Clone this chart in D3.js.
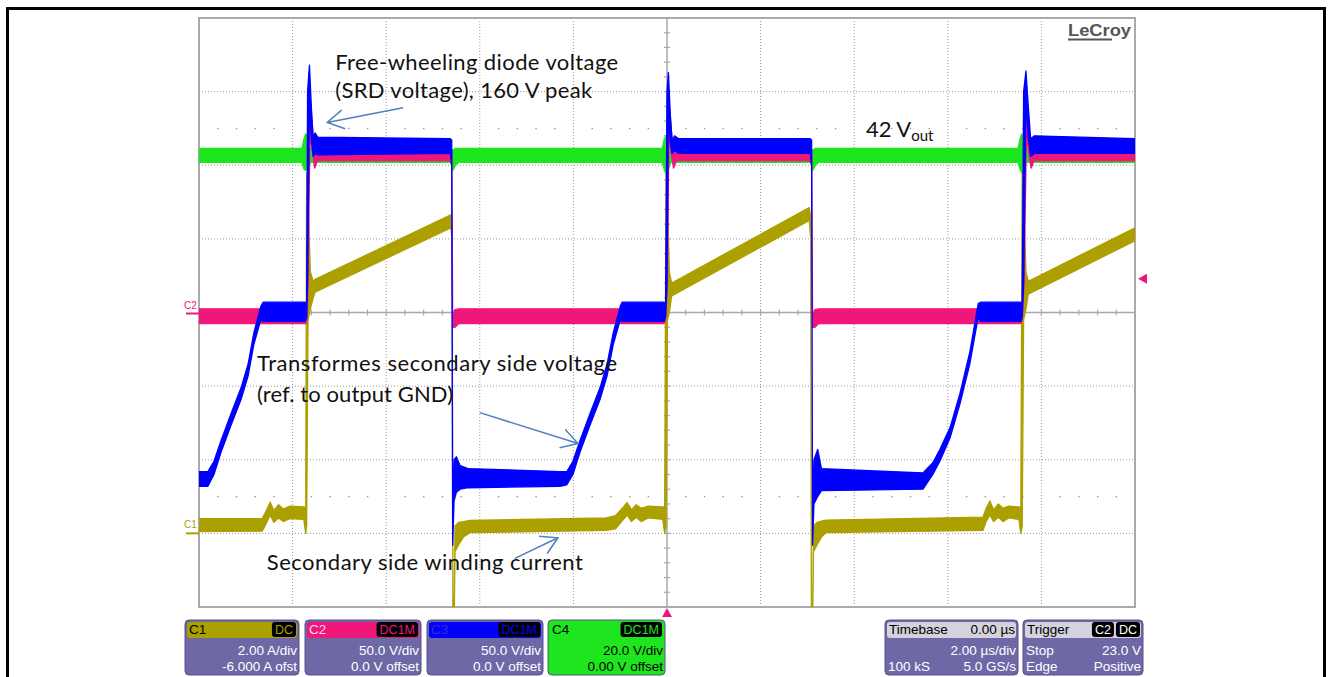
<!DOCTYPE html>
<html><head><meta charset="utf-8">
<script src="https://cdn.jsdelivr.net/npm/d3@7"></script>
<style>body{margin:0;background:#fff}svg{display:block}</style>
</head><body><svg id="c" width="1332" height="677"></svg>
<script>
// ---------------- DATA ----------------
const timeRange = [-10, 10];      // µs, 2.00 µs/div, timebase 0.00 µs
const c1Range = [-2, 14];         // A, 2.00 A/div, -6.000 A offset
const c2Range = [-200, 200];      // V, 50.0 V/div
const c3Range = [-200, 200];      // V, 50.0 V/div
const c4Range = [-80, 80];        // V, 20.0 V/div
const triggerLevel = 23;          // V on C2

// each point: [time µs, band low, band high]
const c3Blue = [
 [-10.00,-118,-108],[-9.81,-118,-108],[-9.68,-110,-101],[-9.53,-95,-87],[-9.32,-77,-69],
 [-9.10,-59,-51],[-8.95,-43,-35],[-8.83,-22,-14],[-8.68,-5,4],[-8.63,-6,7],[-7.73,-6,7],
 [-7.70,-3,5],[-7.68,20,150],[-7.64,145,168],[-7.60,118,140],[-7.56,106,118],[-7.52,108,122],
 [-7.46,107,119],[-4.63,108,118],[-4.60,100,117],[-4.58,-158,-140],[-4.55,-128,-100],
 [-4.50,-122,-98],[-4.42,-120,-104],[-4.25,-119,-106],[-2.29,-118,-108],[-2.14,-117,-108],
 [-2.01,-110,-101],[-1.86,-95,-87],[-1.65,-77,-69],[-1.43,-59,-51],[-1.28,-43,-35],
 [-1.15,-22,-14],[-1.00,-5,4],[-0.96,-6,7],[-0.06,-6,7],[-0.03,-3,5],[0.00,20,150],
 [0.03,140,163],[0.07,115,135],[0.11,108,116],[0.16,110,120],[0.25,108,118],[3.06,108,118],
 [3.09,100,117],[3.11,-158,-140],[3.14,-130,-100],[3.22,-125,-93],[3.30,-121,-106],
 [5.47,-120,-109],[5.68,-110,-102],[5.83,-101,-93],[6.05,-85,-78],[6.26,-62,-55],
 [6.47,-35,-27],[6.65,-3,6],[6.70,-6,7],[7.56,-6,7],[7.59,-3,5],[7.62,20,150],
 [7.67,145,164],[7.72,118,140],[7.77,106,118],[7.85,108,120],[10.00,108,118]
];
const c2Pink = [
 [-10,-7.5,2.5],[-7.72,-7.5,2.5],[-7.69,-5,2],[-7.67,20,100],[-7.63,120,147],[-7.58,110,128],
 [-7.53,98,108],[-7.47,103,113],[-4.63,103,112],[-4.60,100,110],[-4.58,-10,-2],[-4.53,-10,2],
 [-4.45,-7.5,2.5],[-0.06,-7.5,2.5],[-0.03,-5,2],[0.01,20,100],[0.04,120,145],[0.09,108,125],
 [0.14,98,108],[0.20,103,113],[3.06,103,112],[3.09,100,110],[3.11,-10,-2],[3.16,-10,2],
 [3.24,-7.5,2.5],[7.56,-7.5,2.5],[7.59,-5,2],[7.63,20,100],[7.68,120,147],[7.73,108,125],
 [7.78,98,108],[7.84,103,113],[10,103,112]
];
const c4Green = [
 [-10,40.8,44.6],[-7.80,40.8,44.6],[-7.76,39,47],[-7.72,38.6,48.6],[-7.67,39,47],[-7.62,40.8,44.6],
 [-4.62,40.8,44.6],[-4.58,38.5,44],[-4.52,40,44.6],[-4.45,40.8,44.6],[-0.10,40.8,44.6],
 [-0.06,39,47],[-0.02,37.5,48],[0.03,39,46],[0.08,40.8,44.6],[3.07,40.8,44.6],[3.11,38.5,44],
 [3.17,40,44.6],[3.24,40.8,44.6],[7.50,40.8,44.6],[7.54,39,47],[7.58,38,48.5],[7.63,39,47],
 [7.68,40.8,44.6],[10,40.8,44.6]
];
const c1Yellow = [
 [-10,0.05,0.4],[-8.65,0.06,0.4],[-8.55,0.3,0.65],[-8.48,0.5,0.85],[-8.40,0.3,0.62],
 [-8.30,0.42,0.78],[-8.20,0.32,0.66],[-8.06,0.4,0.74],[-7.76,0.38,0.72],[-7.72,0,0.7],
 [-7.70,0.2,9.8],[-7.67,5.8,9.0],[-7.62,6.1,7.1],[-7.56,6.4,6.85],[-7.52,6.55,6.9],
 [-4.62,8.3,8.65],[-4.59,8.0,8.5],[-4.575,-2.2,-1.8],[-4.545,-2.2,-1.8],[-4.53,-0.5,0.2],
 [-4.45,-0.3,0.3],[-4.35,-0.1,0.32],[-4.21,0.02,0.35],[-1.30,0.08,0.42],[-1.10,0.12,0.48],
 [-0.93,0.38,0.72],[-0.85,0.5,0.84],[-0.76,0.32,0.64],[-0.66,0.44,0.78],[-0.55,0.32,0.68],
 [-0.40,0.42,0.74],[-0.09,0.38,0.72],[-0.05,0,0.7],[-0.02,0.2,9.8],[0.01,5.8,9.0],
 [0.05,6.0,7.1],[0.10,6.45,6.8],[3.04,8.5,8.85],[3.07,8.0,8.6],[3.085,-2.2,-1.8],
 [3.115,-2.2,-1.8],[3.13,-0.5,0.2],[3.21,-0.3,0.3],[3.30,-0.1,0.33],[3.40,0.02,0.36],
 [6.75,0.08,0.44],[6.82,0.32,0.68],[6.90,0.5,0.88],[6.98,0.32,0.64],[7.08,0.44,0.8],
 [7.18,0.32,0.68],[7.30,0.42,0.74],[7.52,0.38,0.72],[7.56,0,0.7],[7.59,0.2,9.8],
 [7.62,5.8,9.0],[7.67,6.1,7.1],[7.72,6.5,6.85],[10,7.95,8.3]
];

const channelIds = ['C1','C2','C3','C4'];
const channelCoupling = ['DC','DC1M','DC1M','DC1M'];
const channelScale = ['2.00 A/div','50.0 V/div','50.0 V/div','20.0 V/div'];
const channelOffset = ['-6.000 A ofst','0.0 V offset','0.0 V offset','0.00 V offset'];
const timebaseTexts = ['Timebase','0.00 \u00b5s','2.00 \u00b5s/div','100 kS','5.0 GS/s'];
const triggerTexts = ['Trigger','C2','DC','Stop','23.0 V','Edge','Positive'];

// annotations: [text, t, V(on C3 scale)]
const annotations = [
 ['Free-wheeling diode voltage', -7.09, 165],
 ['(SRD voltage), 160 V peak', -7.09, 146],
 ['Transformes secondary side voltage', -8.76, -40],
 ['(ref. to output GND)', -8.76, -61],
 ['Secondary side winding current', -8.55, -175]
];
const annotationWidths = [283, 257, 360, 196, 316];
const voutLabel = ['42 V', 'out', 4.25, 119];
// arrows: [t0, V0, t1(tip), V1(tip)] on C3 scale
const arrows = [
 [-5.64, 139, -7.26, 129],
 [-4.00, -68, -1.90, -89],
 [-3.25, -167, -2.33, -153]
];

// ---------------- LAYOUT / STYLE ----------------
const svg = d3.select('#c');
const P = {left:199, right:1135, top:18, bottom:607};
const x = d3.scaleLinear().domain(timeRange).range([P.left, P.right]);
const yC1 = d3.scaleLinear().domain(c1Range).range([P.bottom, P.top]);
const yC2 = d3.scaleLinear().domain(c2Range).range([P.bottom, P.top]);
const yC3 = d3.scaleLinear().domain(c3Range).range([P.bottom, P.top]);
const yC4 = d3.scaleLinear().domain(c4Range).range([P.bottom, P.top]);
const COL = {c1:'#aca000', c2:'#f0167a', c3:'#0000ff', c4:'#1ee61e'};
const arial = "'Liberation Sans', Arial, sans-serif";

// outer frame
svg.append('rect').attr('x',7.5).attr('y',8.5).attr('width',1317).attr('height',700)
  .attr('fill','none').attr('stroke','#000').attr('stroke-width',3);

// graticule
const grid = svg.append('g');
const xDivs = d3.range(timeRange[0], timeRange[1]+0.001, 2);
const yDivs = d3.range(c3Range[0], c3Range[1]+0.001, 50);
xDivs.slice(1,-1).filter(t=>t!==0).forEach(t=>{
  grid.append('line').attr('x1',x(t)).attr('x2',x(t)).attr('y1',P.top).attr('y2',P.bottom)
    .attr('stroke','#9a9a9a').attr('stroke-width',1).attr('stroke-dasharray','1,2');
});
yDivs.slice(1,-1).filter(v=>v!==0).forEach(v=>{
  grid.append('line').attr('x1',P.left).attr('x2',P.right).attr('y1',yC3(v)).attr('y2',yC3(v))
    .attr('stroke','#9a9a9a').attr('stroke-width',1).attr('stroke-dasharray','1,2');
});
// sparse dot rows at +-2.5 div
[-125,125].forEach(v=>{
  d3.range(timeRange[0], timeRange[1]+0.001, 0.4).forEach(t=>{
    if (Math.abs(t/2 - Math.round(t/2))<0.01) return;
    grid.append('rect').attr('x',x(t)-0.6).attr('y',yC3(v)-0.6).attr('width',1.4).attr('height',1.4).attr('fill','#999');
  });
});
// centre lines
grid.append('line').attr('x1',P.left).attr('x2',P.right).attr('y1',yC3(0)).attr('y2',yC3(0)).attr('stroke','#a8a8a8').attr('stroke-width',1.5);
grid.append('line').attr('x1',x(0)).attr('x2',x(0)).attr('y1',P.top).attr('y2',P.bottom).attr('stroke','#a8a8a8').attr('stroke-width',1.5);
d3.range(timeRange[0], timeRange[1]+0.001, 0.4).forEach(t=>{
  grid.append('line').attr('x1',x(t)).attr('x2',x(t)).attr('y1',yC3(0)-3).attr('y2',yC3(0)+3).attr('stroke','#a8a8a8').attr('stroke-width',1.2);
});
d3.range(c3Range[0], c3Range[1]+0.001, 10).forEach(v=>{
  grid.append('line').attr('x1',x(0)-3).attr('x2',x(0)+3).attr('y1',yC3(v)).attr('y2',yC3(v)).attr('stroke','#a8a8a8').attr('stroke-width',1.2);
});
// border
grid.append('rect').attr('x',P.left).attr('y',P.top).attr('width',P.right-P.left).attr('height',P.bottom-P.top)
  .attr('fill','none').attr('stroke','#aaaaaa').attr('stroke-width',2);

// LeCroy logo
svg.append('text').attr('x',1068).attr('y',36).attr('font-family',arial).attr('font-weight','bold')
  .attr('font-size',16).attr('fill','#555').attr('textLength',63).attr('lengthAdjust','spacingAndGlyphs').text('LeCroy');
svg.append('line').attr('x1',1068).attr('x2',1112).attr('y1',39.5).attr('y2',39.5).attr('stroke','#555').attr('stroke-width',2);

// traces
svg.append('clipPath').attr('id','clip').append('rect').attr('x',P.left).attr('y',P.top).attr('width',P.right-P.left).attr('height',P.bottom-P.top);
const tg = svg.append('g').attr('clip-path','url(#clip)');
function trace(data, yS, color){
  const area = d3.area().x(d=>x(d[0])).y0(d=>yS(d[1])).y1(d=>yS(d[2]));
  tg.append('path').attr('d', area(data)).attr('fill',color).attr('stroke',color)
    .attr('stroke-width',1.3).attr('stroke-linejoin','round');
}
trace(c4Green, yC4, COL.c4);
trace(c1Yellow, yC1, COL.c1);
trace(c2Pink, yC2, COL.c2);
trace(c3Blue, yC3, COL.c3);

// channel ground markers
svg.append('text').attr('x',184).attr('y',yC2(0)-4).attr('font-family',arial).attr('font-size',10).attr('fill',COL.c2).text('C2');
svg.append('line').attr('x1',186).attr('x2',P.left).attr('y1',yC2(0)+1).attr('y2',yC2(0)+1).attr('stroke',COL.c2).attr('stroke-width',2);
svg.append('text').attr('x',184).attr('y',yC1(0)-5).attr('font-family',arial).attr('font-size',10).attr('fill',COL.c1).text('C1');
svg.append('line').attr('x1',186).attr('x2',P.left).attr('y1',yC1(0)).attr('y2',yC1(0)).attr('stroke',COL.c1).attr('stroke-width',2);

// trigger markers
svg.append('path').attr('d',`M${x(0)},${P.bottom+1}L${x(0)-5},${P.bottom+10}L${x(0)+5},${P.bottom+10}Z`).attr('fill',COL.c2);
const ty = yC2(triggerLevel);
svg.append('path').attr('d',`M${P.right+3},${ty}L${P.right+12},${ty-5}L${P.right+12},${ty+5}Z`).attr('fill',COL.c2);

// annotations
const ann = svg.append('g');
const annFont = "Lato, 'Noto Sans', sans-serif";
annotations.forEach((a,i)=>{
  ann.append('text').attr('x',x(a[1])).attr('y',yC3(a[2])).attr('font-family',annFont)
    .attr('font-size',22).attr('fill','#111').attr('textLength',annotationWidths[i])
    .attr('lengthAdjust','spacing').text(a[0]);
});
const vt = ann.append('text').attr('x',x(voutLabel[2])).attr('y',yC3(voutLabel[3])).attr('font-family',annFont).attr('font-size',22).attr('fill','#111');
vt.append('tspan').text(voutLabel[0]);
vt.append('tspan').attr('font-size',15).attr('dy',4).text(voutLabel[1]);

arrows.forEach(a=>{
  const x0=x(a[0]), y0=yC3(a[1]), x1=x(a[2]), y1=yC3(a[3]);
  const ang = Math.atan2(y1-y0, x1-x0), L=19, h=Math.PI/6;
  const p1=[x1-L*Math.cos(ang-h), y1-L*Math.sin(ang-h)], p2=[x1-L*Math.cos(ang+h), y1-L*Math.sin(ang+h)];
  ann.append('path').attr('d',`M${x0},${y0}L${x1},${y1}M${p1[0]},${p1[1]}L${x1},${y1}L${p2[0]},${p2[1]}`)
    .attr('fill','none').attr('stroke','#4f81bd').attr('stroke-width',1.5);
});

// bottom info boxes
const purple = '#6e68a6';
const boxX = [185, 305, 427, 548], boxW = [114, 116, 116, 117];
const headCol = [COL.c1, COL.c2, COL.c3, COL.c4];
const headTxt = ['#000', '#ffd6ea', '#3030c0', '#000'];
const bodyCol = [purple, purple, purple, COL.c4];
const bodyTxt = ['#fff','#fff','#fff','#000'];
const BY = 620, BH = 55;
const bx = svg.append('g').attr('font-family',arial);
function badge(xRight, label, color){
  const t = bx.append('text').attr('y',BY+14).attr('font-size',12.5).attr('fill',color).text(label);
  const w = t.node().getComputedTextLength();
  bx.insert('rect', () => t.node()).attr('x',xRight-w-6).attr('y',BY+2).attr('width',w+6).attr('height',15).attr('rx',3).attr('fill','#000');
  t.attr('x', xRight-w-3);
  return w+6;
}
channelIds.forEach((id,i)=>{
  const X=boxX[i], Wd=boxW[i];
  bx.append('rect').attr('x',X).attr('y',BY).attr('width',Wd).attr('height',BH).attr('rx',4)
    .attr('fill',bodyCol[i]).attr('stroke','#57528a').attr('stroke-width',1);
  bx.append('rect').attr('x',X+2).attr('y',BY+2).attr('width',Wd-4).attr('height',16).attr('rx',3).attr('fill',headCol[i]);
  bx.append('text').attr('x',X+4).attr('y',BY+14).attr('font-size',13.5).attr('fill',headTxt[i]).text(id);
  badge(X+Wd-3, channelCoupling[i], headCol[i]);
  bx.append('text').attr('x',X+Wd-2).attr('y',BY+35).attr('text-anchor','end').attr('font-size',13.5).attr('fill',bodyTxt[i]).text(channelScale[i]);
  bx.append('text').attr('x',X+Wd-2).attr('y',BY+51).attr('text-anchor','end').attr('font-size',13.5).attr('fill',bodyTxt[i]).text(channelOffset[i]);
});
// Timebase
(function(){
  const X=885, Wd=133;
  bx.append('rect').attr('x',X).attr('y',BY).attr('width',Wd).attr('height',BH).attr('rx',4).attr('fill',purple).attr('stroke','#57528a');
  bx.append('rect').attr('x',X+2).attr('y',BY+2).attr('width',Wd-4).attr('height',16).attr('rx',3).attr('fill','#d4d2dc');
  bx.append('text').attr('x',X+4).attr('y',BY+14).attr('font-size',13.5).attr('fill','#000').text(timebaseTexts[0]);
  bx.append('text').attr('x',X+Wd-3).attr('y',BY+14).attr('text-anchor','end').attr('font-size',13.5).attr('fill','#000').text(timebaseTexts[1]);
  bx.append('text').attr('x',X+Wd-2).attr('y',BY+35).attr('text-anchor','end').attr('font-size',13.5).attr('fill','#fff').text(timebaseTexts[2]);
  bx.append('text').attr('x',X+3).attr('y',BY+51).attr('font-size',13.5).attr('fill','#fff').text(timebaseTexts[3]);
  bx.append('text').attr('x',X+Wd-2).attr('y',BY+51).attr('text-anchor','end').attr('font-size',13.5).attr('fill','#fff').text(timebaseTexts[4]);
})();
// Trigger
(function(){
  const X=1023, Wd=120;
  bx.append('rect').attr('x',X).attr('y',BY).attr('width',Wd).attr('height',BH).attr('rx',4).attr('fill',purple).attr('stroke','#57528a');
  bx.append('rect').attr('x',X+2).attr('y',BY+2).attr('width',Wd-4).attr('height',16).attr('rx',3).attr('fill','#d4d2dc');
  bx.append('text').attr('x',X+4).attr('y',BY+14).attr('font-size',13.5).attr('fill','#000').text(triggerTexts[0]);
  const w2 = badge(X+Wd-3, triggerTexts[2], '#fff');
  badge(X+Wd-3-w2-2, triggerTexts[1], '#fff');
  bx.append('text').attr('x',X+3).attr('y',BY+35).attr('font-size',13.5).attr('fill','#fff').text(triggerTexts[3]);
  bx.append('text').attr('x',X+Wd-2).attr('y',BY+35).attr('text-anchor','end').attr('font-size',13.5).attr('fill','#fff').text(triggerTexts[4]);
  bx.append('text').attr('x',X+3).attr('y',BY+51).attr('font-size',13.5).attr('fill','#fff').text(triggerTexts[5]);
  bx.append('text').attr('x',X+Wd-2).attr('y',BY+51).attr('text-anchor','end').attr('font-size',13.5).attr('fill','#fff').text(triggerTexts[6]);
})();
</script></body></html>
